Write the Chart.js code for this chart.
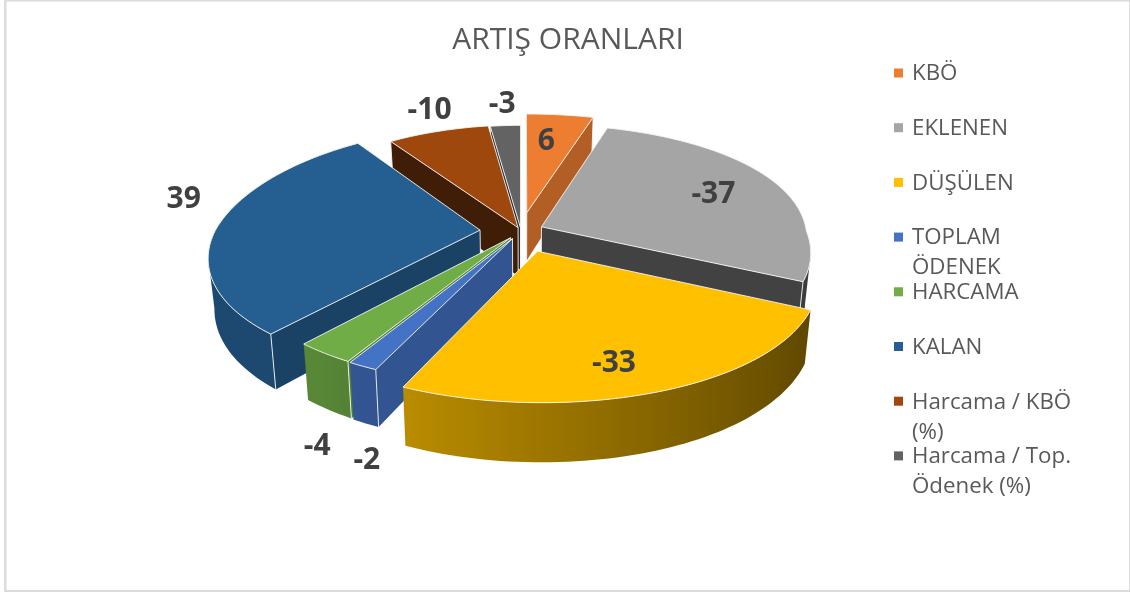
<!DOCTYPE html>
<html>
<head>
<meta charset="utf-8">
<style>
    html, body { margin: 0; padding: 0; background: #ffffff; }
    canvas { display: block; }
</style>
<script src="https://cdn.jsdelivr.net/npm/chart.js@4/dist/chart.umd.min.js"></script>
</head>
<body>
<canvas id="pieChart" width="1130" height="592"></canvas>
<script>
// Chart data
const chartTitle = 'ARTIŞ ORANLARI';
const categories = [
    ['KBÖ'], ['EKLENEN'], ['DÜŞÜLEN'], ['TOPLAM', 'ÖDENEK'], ['HARCAMA'], ['KALAN'],
    ['Harcama / KBÖ', '(%)'], ['Harcama / Top.', 'Ödenek (%)']
];
const artisOranlari = [6, -37, -33, -2, -4, 39, -10, -3];
const sliceColors = ['#ED7D31', '#A5A5A5', '#FFC000', '#4472C4', '#70AD47', '#255E91', '#9E480E', '#636363'];

// Per-slice explosion and label placement, in pie radii
const explode = [0.157, 0.085, 0.175, 0.07, 0.068, 0.155, 0.03, 0.025];
const labelRadius = [0.879, 0.82, 0.97, 1.51, 1.49, 1.386, 1.291, 1.29];
const labelNudge = [-1.3, 0, 3, -11, -13, 9.5, 1.7, 0];

// Perspective of the tilted pie
const VIEW = { a: 265, c: 120, bx: 0.2, bxBackRight: 0.09, bxBackLeft: 0.22, by: 0.16, shiftX: -47, height: 50, growY: 0.063, shrinkX: 0.02 };
const EDGE_COLOR = 'rgba(245,245,245,0.9)';

function shade(hex, k) {
    const n = parseInt(hex.slice(1), 16);
    const r = Math.round(((n >> 16) & 255) * k);
    const g = Math.round(((n >> 8) & 255) * k);
    const b = Math.round((n & 255) * k);
    return `rgb(${r},${g},${b})`;
}

function lerpClamp(v, v0, v1, k0, k1) {
    const t = Math.min(1, Math.max(0, (v - v0) / (v1 - v0)));
    return k0 + (k1 - k0) * t;
}

// Draws the pie's arc elements as exploded 3D slices
const pie3dPlugin = {
    id: 'pie3d',
    beforeDatasetDraw(chart, args) {
        const ctx = chart.ctx;
        const arcs = args.meta.data;
        const cx = arcs[0].x + VIEW.shiftX;
        const cy = arcs[0].y;

        const top = (ux, uy) => {
            const bx = uy > 0 ? VIEW.bx : (ux > 0 ? VIEW.bxBackRight : VIEW.bxBackLeft);
            return {
                x: cx + VIEW.a * ux / (1 - bx * uy),
                y: cy + VIEW.c * uy / (1 - VIEW.by * uy)
            };
        };
        const bottom = (p) => ({
            x: p.x + (cx - p.x) * VIEW.shrinkX,
            y: p.y + VIEW.height + (p.y - cy - 19) * VIEW.growY
        });
        const polygon = (points, fill) => {
            ctx.beginPath();
            points.forEach((p, n) => (n ? ctx.lineTo(p.x, p.y) : ctx.moveTo(p.x, p.y)));
            ctx.closePath();
            ctx.fillStyle = fill;
            ctx.fill();
        };
        const edge = (a, b) => {
            ctx.beginPath();
            ctx.moveTo(a.x, a.y);
            ctx.lineTo(b.x, b.y);
            ctx.strokeStyle = EDGE_COLOR;
            ctx.lineWidth = 1;
            ctx.stroke();
        };

        const slices = arcs.map((arc, i) => {
            const mid = (arc.startAngle + arc.endAngle) / 2;
            return { i, arc, mid, ex: explode[i] * Math.cos(mid), ey: explode[i] * Math.sin(mid) };
        });
        const order = slices.slice().sort((s, t) => Math.sin(s.mid) - Math.sin(t.mid));

        order.forEach((s) => {
            const color = sliceColors[s.i];
            const apex = top(s.ex, s.ey);
            const point = (ang) => top(s.ex + Math.cos(ang), s.ey + Math.sin(ang));
            const start = s.arc.startAngle;
            const end = s.arc.endAngle;
            const pStart = point(start);
            const pEnd = point(end);

            // Outer wall: only the part that faces us, shaded left to right
            const steps = Math.max(2, Math.ceil((end - start) / 0.025));
            const rim = [];
            for (let j = 0; j <= steps; j++) {
                rim.push({ ang: start + (end - start) * j / steps, p: point(start + (end - start) * j / steps) });
            }
            const visible = rim.filter((r, j) => {
                const next = rim[Math.min(j + 1, steps)];
                const prev = rim[Math.max(j - 1, 0)];
                return next.p.x < r.p.x || prev.p.x > r.p.x;
            });
            if (visible.length > 1) {
                const xMax = visible[0].p.x;
                const xMin = visible[visible.length - 1].p.x;
                const gradient = ctx.createLinearGradient(xMin, 0, xMax, 0);
                visible.forEach((r) => {
                    const k = lerpClamp(Math.cos(r.ang), -0.6, 0.9, 0.78, 0.37);
                    gradient.addColorStop((r.p.x - xMin) / (xMax - xMin), shade(color, k));
                });
                const upper = visible.map((r) => r.p);
                const lower = upper.map(bottom).reverse();
                polygon(upper.concat(lower), gradient);
            }

            // Radial walls, each only where it faces us
            const wallShade = (nx) => shade(color, lerpClamp(nx, -0.4, 0.96, 0.4, 0.75));
            if (pStart.x < apex.x) {
                polygon([apex, pStart, bottom(pStart), bottom(apex)], wallShade(Math.sin(start)));
                edge(pStart, bottom(pStart));
                edge(apex, bottom(apex));
            }
            if (pEnd.x > apex.x) {
                polygon([apex, pEnd, bottom(pEnd), bottom(apex)], wallShade(-Math.sin(end)));
                edge(pEnd, bottom(pEnd));
                edge(apex, bottom(apex));
            }

            // Top face
            ctx.beginPath();
            ctx.moveTo(apex.x, apex.y);
            rim.forEach((r) => ctx.lineTo(r.p.x, r.p.y));
            ctx.closePath();
            ctx.fillStyle = color;
            ctx.fill();
            ctx.strokeStyle = EDGE_COLOR;
            ctx.lineWidth = 1;
            ctx.lineJoin = 'round';
            ctx.stroke();
        });

        // Value labels
        ctx.font = 'bold 30px "Open Sans"';
        ctx.fillStyle = '#404040';
        ctx.textAlign = 'center';
        ctx.textBaseline = 'middle';
        slices.forEach((s) => {
            const ang = s.mid + labelNudge[s.i] * Math.PI / 180;
            const p = top(labelRadius[s.i] * Math.cos(ang), labelRadius[s.i] * Math.sin(ang));
            ctx.fillText(String(artisOranlari[s.i]), p.x, p.y + 2);
        });
        return false;
    },
    // Legend rows sit on a fixed pitch, wrapped lines run into the next row
    afterDraw(chart) {
        const ctx = chart.ctx;
        ctx.save();
        ctx.textAlign = 'left';
        ctx.textBaseline = 'middle';
        ctx.font = '22.3px "Open Sans"';
        categories.forEach((lines, i) => {
            const y = 73 + i * 54.7;
            ctx.fillStyle = sliceColors[i];
            ctx.fillRect(894, y - 4.5, 9, 9);
            ctx.fillStyle = '#595959';
            lines.forEach((line, n) => ctx.fillText(line, 912, y + 1 + n * 30));
        });
        ctx.restore();
    },
    beforeDraw(chart) {
        const ctx = chart.ctx;
        ctx.save();
        ctx.fillStyle = '#dcdcdc';
        ctx.fillRect(4, 0, 1126, 1.5);
        ctx.fillRect(4, 0, 2.5, 592);
        ctx.fillRect(4, 590, 1126, 2);
        ctx.fillRect(1129, 0, 1, 592);
        ctx.restore();
    }
};

new Chart(document.getElementById('pieChart').getContext('2d'), {
    type: 'pie',
    data: {
        labels: categories,
        datasets: [{
            data: artisOranlari.map((v) => Math.abs(v)),
            backgroundColor: sliceColors
        }]
    },
    options: {
        responsive: false,
        animation: false,
        layout: { padding: { left: 6, bottom: 188.8 } },
        plugins: {
            legend: { display: false },
            tooltip: { enabled: false },
            title: {
                display: true,
                text: chartTitle,
                color: '#595959',
                font: { family: '"Open Sans"', size: 30, weight: 'normal' },
                padding: { top: 22, bottom: 0.8 }
            }
        }
    },
    plugins: [pie3dPlugin]
});
</script>
</body>
</html>
